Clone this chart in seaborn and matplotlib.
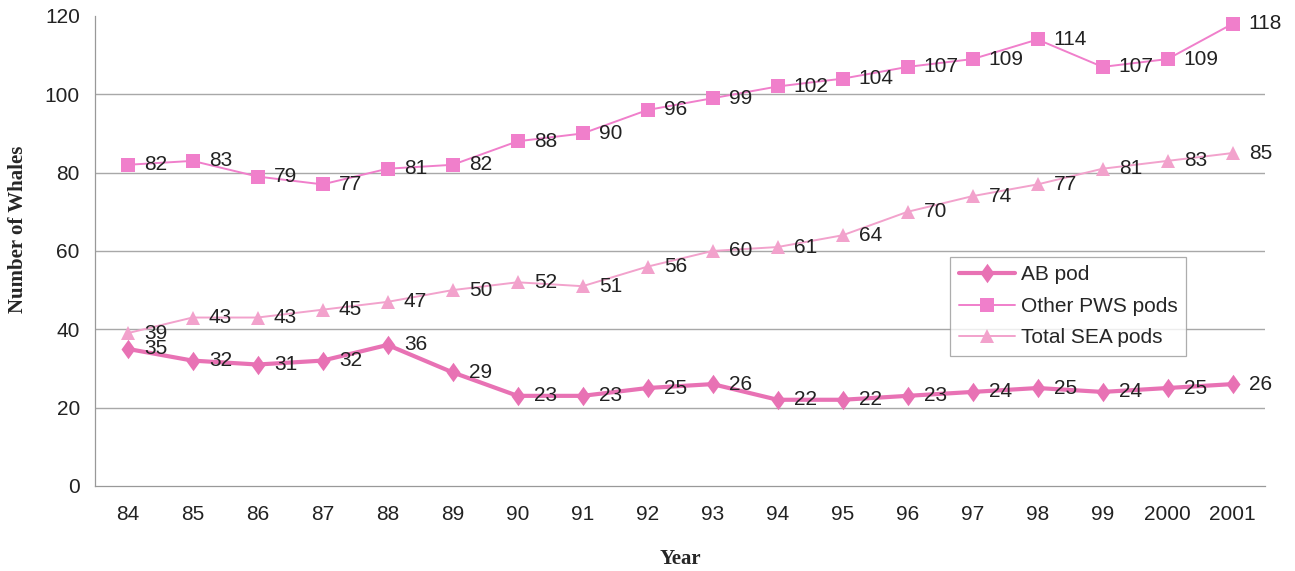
import numpy as np
import pandas as pd
import matplotlib
matplotlib.use("Agg")
import matplotlib.pyplot as plt
from matplotlib.path import Path
import seaborn as sns

years = ["84", "85", "86", "87", "88", "89", "90", "91", "92", "93", "94",
         "95", "96", "97", "98", "99", "2000", "2001"]
ab_pod = [35, 32, 31, 32, 36, 29, 23, 23, 25, 26, 22, 22, 23, 24, 25, 24, 25, 26]
other_pws = [82, 83, 79, 77, 81, 82, 88, 90, 96, 99, 102, 104, 107, 109, 114, 107, 109, 118]
total_sea = [39, 43, 43, 45, 47, 50, 52, 51, 56, 60, 61, 64, 70, 74, 77, 81, 83, 85]

sns.set_style("white")
plt.rcParams["font.family"] = ["Liberation Sans", "DejaVu Sans"]
serif = ["Liberation Serif", "DejaVu Serif"]

pos = np.arange(len(years))
df = pd.DataFrame({"pos": pos, "AB pod": ab_pod,
                   "Other PWS pods": other_pws, "Total SEA pods": total_sea})

# slightly elongated diamond
diamond = Path([(0, 1), (0.72, 0), (0, -1), (-0.72, 0), (0, 1)],
               [Path.MOVETO, Path.LINETO, Path.LINETO, Path.LINETO, Path.CLOSEPOLY])

fig = plt.figure(figsize=(12.95, 5.71), dpi=100)
ax = fig.add_axes([0.0734, 0.149, 0.9035, 0.823])

series = [
    ("AB pod", "#e872b4", diamond, 3.0, 14),
    ("Other PWS pods", "#f07fcb", "s", 1.4, 10),
    ("Total SEA pods", "#f2a2cc", "^", 1.4, 10),
]
for name, color, marker, lw, ms in series:
    sns.lineplot(data=df, x="pos", y=name, ax=ax, color=color, marker=marker,
                 markersize=ms, markeredgewidth=0, linewidth=lw, label=name,
                 zorder=3)
    for x, v in zip(pos, df[name]):
        ax.text(x + 0.25, v, str(v), fontsize=15, color="#222222",
                ha="left", va="center", zorder=4)

ax.set_xlim(-0.5, len(years) - 0.5)
ax.set_ylim(0, 120)
ax.set_yticks(np.arange(0, 121, 20))
ax.set_xticks(pos)
ax.set_xticklabels(years)
ax.set_xticks(np.arange(-0.5, len(years), 1.0), minor=True)
ax.tick_params(axis="x", which="major", length=0, labelsize=15, pad=14,
               colors="#222222")
ax.tick_params(axis="x", which="minor", length=5, width=0.8, color="#999999",
               direction="out")
ax.tick_params(axis="y", which="major", length=5, width=0.8, color="#999999",
               direction="out", labelsize=15, pad=6, labelcolor="#222222")

for y in range(20, 101, 20):
    ax.axhline(y, color="#a8a8a8", linewidth=1.0, zorder=1)

for side in ["top", "right"]:
    ax.spines[side].set_visible(False)
for side in ["left", "bottom"]:
    ax.spines[side].set_color("#999999")
    ax.spines[side].set_linewidth(0.9)

ax.set_xlabel("Year", fontsize=15, fontweight="bold", family=serif,
              labelpad=18)
ax.set_ylabel("Number of Whales", fontsize=15, fontweight="bold",
              family=serif)
ax.yaxis.set_label_coords(-0.057, 0.545)

leg = ax.legend(loc="upper left", bbox_to_anchor=(0.731, 0.487), fontsize=15,
                frameon=True, fancybox=False, borderpad=0.4, handlelength=2.7,
                labelspacing=0.6, handletextpad=0.3, borderaxespad=0)
leg.get_frame().set_edgecolor("#999999")
leg.get_frame().set_linewidth(0.9)

fig.savefig("out.png", dpi=100, facecolor="white")
